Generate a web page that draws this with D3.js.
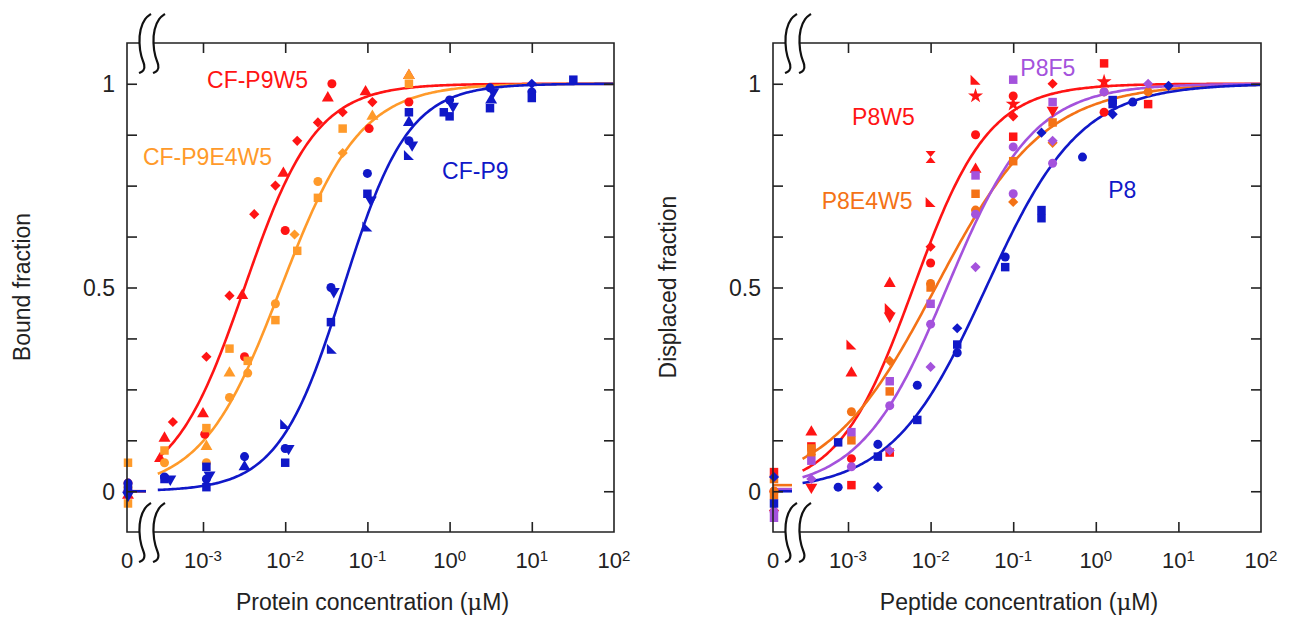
<!DOCTYPE html>
<html>
<head>
<meta charset="utf-8">
<script src="https://cdn.jsdelivr.net/npm/d3@7"></script>
<style>
  body { margin: 0; background: #fff; }
  svg { display: block; font-family: "Liberation Sans", Arial, sans-serif; }
</style>
</head>
<body>
<div id="chart"></div>
<script>
// ---- data (concentration in uM, fraction, marker) ----
const cfP9W5 = [
  [0, 0.02, "circle"], [0, -0.01, "triangle"], [0, 0.0, "diamond"],
  [3.0e-4, 0.08, "triangle"], [3.4e-4, 0.13, "triangle"], [4.3e-4, 0.17, "diamond"],
  [1.0e-3, 0.19, "triangle"], [1.05e-3, 0.14, "circle"], [1.1e-3, 0.33, "diamond"],
  [2.1e-3, 0.48, "diamond"], [3.0e-3, 0.48, "triangle"], [3.2e-3, 0.33, "circle"],
  [4.2e-3, 0.68, "diamond"], [7.6e-3, 0.75, "diamond"], [9.5e-3, 0.78, "triangle"],
  [0.01, 0.64, "circle"], [0.014, 0.86, "diamond"], [0.025, 0.905, "diamond"],
  [0.033, 0.965, "triangle"], [0.037, 1.0, "circle"], [0.05, 0.93, "diamond"],
  [0.095, 0.98, "triangle"], [0.105, 0.89, "circle"], [0.115, 0.955, "diamond"],
  [0.32, 1.02, "triangle"], [0.32, 0.955, "circle"]
];
const cfP9E4W5 = [
  [0, 0.07, "square"], [0, -0.03, "square"], [0, 0.01, "circle"],
  [3.4e-4, 0.10, "square"], [3.4e-4, 0.07, "circle"],
  [1.1e-3, 0.155, "square"], [1.1e-3, 0.11, "triangle"], [1.1e-3, 0.07, "circle"],
  [2.1e-3, 0.35, "square"], [2.1e-3, 0.29, "triangle"], [2.1e-3, 0.23, "circle"],
  [3.5e-3, 0.32, "square"], [3.5e-3, 0.29, "circle"],
  [7.6e-3, 0.46, "circle"], [7.6e-3, 0.42, "square"],
  [0.014, 0.59, "square"], [0.013, 0.63, "diamond"],
  [0.025, 0.76, "circle"], [0.025, 0.72, "square"],
  [0.05, 0.89, "square"], [0.05, 0.83, "diamond"],
  [0.115, 0.92, "triangle"], [0.32, 1.0, "square"], [0.32, 1.02, "triangle"]
];
const cfP9 = [
  [0, 0.02, "circle"], [0, 0.0, "circle"], [0, 0.01, "square"], [0, -0.01, "triangleDown"],
  [3.4e-4, 0.035, "circle"], [3.4e-4, 0.03, "square"], [4.0e-4, 0.03, "triangleDown"],
  [1.1e-3, 0.06, "square"], [1.2e-3, 0.04, "triangleDown"], [1.1e-3, 0.03, "circle"], [1.1e-3, 0.01, "square"],
  [3.2e-3, 0.085, "circle"], [3.2e-3, 0.06, "triangle"],
  [0.01, 0.165, "wedge"], [0.01, 0.105, "circle"], [0.011, 0.105, "triangleDown"], [0.01, 0.07, "square"],
  [0.036, 0.50, "circle"], [0.039, 0.49, "triangleDown"], [0.036, 0.415, "square"], [0.037, 0.35, "wedge"],
  [0.1, 0.78, "circle"], [0.1, 0.73, "square"], [0.11, 0.715, "triangleDown"], [0.1, 0.65, "wedge"],
  [0.32, 0.93, "square"], [0.32, 0.905, "triangle"], [0.32, 0.86, "circle"], [0.35, 0.85, "triangleDown"], [0.32, 0.825, "wedge"],
  [1.0, 0.96, "circle"], [1.0, 0.92, "square"], [1.1, 0.945, "triangleDown"], [0.85, 0.93, "square"],
  [3.1, 0.99, "circle"], [3.4, 0.98, "triangleDown"], [3.1, 0.94, "square"], [3.2, 0.96, "triangle"],
  [10, 1.0, "diamond"], [10, 0.98, "circle"], [10, 0.965, "square"],
  [32, 1.01, "square"]
];

const p8W5 = [
  [0, 0.047, "square"], [0, -0.047, "diamond"], [0, 0.0, "circle"],
  [3.6e-4, 0.145, "triangle"], [3.6e-4, 0.11, "square"], [3.6e-4, 0.01, "triangleDown"],
  [1.1e-3, 0.36, "wedge"], [1.1e-3, 0.29, "triangle"], [1.1e-3, 0.08, "circle"], [1.1e-3, 0.015, "square"],
  [3.2e-3, 0.51, "triangle"], [3.2e-3, 0.45, "wedge"], [3.2e-3, 0.43, "triangleDown"], [3.2e-3, 0.095, "square"],
  [0.01, 0.82, "hourglass"], [0.01, 0.71, "wedge"], [0.01, 0.6, "diamond"], [0.01, 0.56, "circle"],
  [0.035, 1.01, "wedge"], [0.035, 0.97, "star"], [0.035, 0.875, "circle"], [0.035, 0.79, "triangle"],
  [0.1, 0.97, "circle"], [0.1, 0.95, "star"], [0.1, 0.92, "diamond"], [0.1, 0.87, "square"],
  [0.3, 1.0, "diamond"], [0.3, 0.935, "triangleDown"],
  [1.26, 1.05, "square"], [1.26, 1.005, "star"], [1.26, 0.93, "circle"],
  [4.3, 0.95, "square"]
];
const p8E4W5 = [
  [0, 0.0, "circle"], [0, -0.01, "square"], [0, 0.03, "square"],
  [3.6e-4, 0.105, "square"], [3.6e-4, 0.09, "circle"],
  [1.1e-3, 0.195, "circle"], [1.1e-3, 0.125, "square"],
  [3.2e-3, 0.32, "diamond"], [3.2e-3, 0.245, "square"],
  [0.01, 0.51, "circle"], [0.01, 0.5, "square"],
  [0.035, 0.73, "square"], [0.035, 0.69, "circle"],
  [0.1, 0.81, "square"], [0.1, 0.71, "diamond"],
  [0.3, 0.905, "square"], [0.3, 0.855, "diamond"],
  [1.26, 0.98, "circle"], [4.3, 0.98, "circle"]
];
const p8F5 = [
  [0, -0.065, "square"], [0, -0.05, "circle"],
  [3.6e-4, 0.075, "square"], [3.6e-4, 0.03, "diamond"],
  [1.1e-3, 0.145, "square"], [1.1e-3, 0.06, "circle"],
  [3.2e-3, 0.27, "square"], [3.2e-3, 0.21, "circle"], [3.2e-3, 0.1, "diamond"],
  [0.01, 0.46, "square"], [0.01, 0.41, "circle"], [0.01, 0.305, "diamond"],
  [0.035, 0.775, "square"], [0.035, 0.68, "circle"], [0.035, 0.55, "diamond"],
  [0.1, 1.01, "square"], [0.1, 0.845, "circle"], [0.1, 0.73, "circle"],
  [0.3, 0.955, "square"], [0.3, 0.86, "diamond"], [0.3, 0.805, "circle"],
  [1.26, 0.98, "circle"], [4.3, 1.0, "diamond"]
];
const p8 = [
  [0, 0.035, "diamond"], [0, -0.03, "square"],
  [7.6e-4, 0.12, "square"], [7.6e-4, 0.01, "circle"],
  [2.3e-3, 0.115, "circle"], [2.3e-3, 0.085, "square"], [2.3e-3, 0.01, "diamond"],
  [6.9e-3, 0.26, "circle"], [6.9e-3, 0.175, "square"],
  [0.021, 0.40, "diamond"], [0.021, 0.36, "square"], [0.021, 0.34, "circle"],
  [0.08, 0.575, "circle"], [0.08, 0.55, "square"],
  [0.22, 0.88, "diamond"], [0.22, 0.69, "square"], [0.22, 0.67, "square"],
  [0.69, 0.82, "circle"],
  [1.6, 0.95, "square"], [1.6, 0.96, "square"], [1.6, 0.925, "diamond"],
  [2.8, 0.955, "circle"], [7.6, 0.995, "diamond"]
];

// fit parameters (K in uM, Hill slope) and the value drawn at c = 0
const leftNames = ["CF-P9W5", "CF-P9E4W5", "CF-P9"];
const leftK = [0.0032, 0.0089, 0.051];
const leftHill = [1.0, 0.9, 1.1];
const leftBase = [0, 0, 0];
const leftLabelAt = [[1.12e-3, 0.99], [1.86e-4, 0.80], [0.81, 0.767]];

const rightNames = ["P8W5", "P8E4W5", "P8F5", "P8"];
const rightK = [0.0062, 0.0115, 0.0158, 0.047];
const rightHill = [0.95, 0.66, 0.83, 0.76];
const rightBase = [0.005, 0.015, 0.005, 0];
const rightLabelAt = [[1.12e-3, 0.90], [4.8e-4, 0.693], [0.122, 1.02], [1.41, 0.72]];

const xExponents = [-3, -2, -1, 0, 1, 2];
const yTickLabels = [0, 0.5, 1];

// ---- layout ----
const width = 1290, height = 617;
const red = "#ff1414", blue = "#1018c8";
const leftColors = [red, "#ff9a2a", blue];
const rightColors = [red, "#f47216", "#a452dc", blue];
const frameColor = "#222";

const svg = d3.select("#chart").append("svg")
    .attr("width", width)
    .attr("height", height)
    .attr("viewBox", [0, 0, width, height]);

const y = d3.scaleLinear().domain([-0.1, 1.1]).range([532, 43]);
const yTicks = d3.range(0, 1.0001, 0.125);

const wedge = {draw(ctx) { ctx.moveTo(-5, -5); ctx.lineTo(-5, 5); ctx.lineTo(5, 5); ctx.closePath(); }};
const hourglass = {draw(ctx) {
  ctx.moveTo(-5, -6); ctx.lineTo(5, -6); ctx.lineTo(0, 0); ctx.lineTo(5, 6);
  ctx.lineTo(-5, 6); ctx.lineTo(0, 0); ctx.closePath();
}};
const shapes = {
  circle: [d3.symbolCircle, 64, 0],
  square: [d3.symbolSquare, 72, 0],
  triangle: [d3.symbolTriangle, 62, 0],
  triangleDown: [d3.symbolTriangle, 62, 180],
  diamond: [d3.symbolSquare, 52, 45],
  star: [d3.symbolStar, 70, 0],
  wedge: [wedge, 64, 0],
  hourglass: [hourglass, 64, 0]
};

const hill = (c, K, n) => 1 / (1 + Math.pow(K / c, n));
const curveLogs = d3.range(-3.55, 2.0001, 0.02);

// break mark stroke (relative to crossing point)
const breakStroke = d3.line().curve(d3.curveBasis)(
  [[7, -29], [1, -25], [-4, -14], [-5, 0], [-3, 14], [1, 22], [0, 28], [-5, 30]]);

function drawPanel(p) {
  const [x0, x1] = p.frame;
  const x = d3.scaleLog().domain([1e-3, 1e2]).range(p.logRange);
  const xPos = c => c === 0 ? x0 + 1 : x(c);
  const g = svg.append("g");

  // fitted curves and their c = 0 stubs
  p.names.forEach((name, i) => {
    const line = d3.line().x(l => x(Math.pow(10, l))).y(l => y(hill(Math.pow(10, l), p.K[i], p.n[i])));
    g.append("path")
        .attr("fill", "none")
        .attr("stroke", p.colors[i])
        .attr("stroke-width", 2.6)
        .attr("d", line(curveLogs));
    g.append("line")
        .attr("x1", x0).attr("x2", x0 + 19)
        .attr("y1", y(p.base[i])).attr("y2", y(p.base[i]))
        .attr("stroke", p.colors[i])
        .attr("stroke-width", 2.6);
  });

  // points
  p.series.forEach((data, i) => {
    g.append("g")
        .attr("fill", p.colors[i])
      .selectAll("path")
      .data(data)
      .join("path")
        .attr("transform", d => `translate(${xPos(d[0])},${y(d[1])}) rotate(${shapes[d[2]][2]})`)
        .attr("d", d => d3.symbol(shapes[d[2]][0], shapes[d[2]][1])());
  });

  // frame with gaps at the axis break
  const gapA = x0 + 13, gapB = x0 + 27;
  const frame = g.append("g").attr("stroke", frameColor).attr("stroke-width", 1.6).attr("fill", "none");
  frame.append("path").attr("d", `M${gapA},43H${x0}V532H${gapA}`);
  frame.append("path").attr("d", `M${gapB},43H${x1}V532H${gapB}`);

  // inward ticks
  const decades = xExponents.slice(0, -1).map(e => Math.pow(10, e));
  g.append("g")
      .attr("transform", "translate(0,532)")
      .call(d3.axisTop(x).tickValues(decades).tickSize(10).tickFormat(""))
      .call(a => a.select(".domain").remove());
  g.append("g")
      .attr("transform", "translate(0,43)")
      .call(d3.axisBottom(x).tickValues(decades).tickSize(10).tickFormat(""))
      .call(a => a.select(".domain").remove());
  g.append("g")
      .attr("transform", `translate(${x0},0)`)
      .call(d3.axisRight(y).tickValues(yTicks).tickSize(10).tickFormat(""))
      .call(a => a.select(".domain").remove());
  g.append("g")
      .attr("transform", `translate(${x1},0)`)
      .call(d3.axisLeft(y).tickValues(yTicks).tickSize(10).tickFormat(""))
      .call(a => a.select(".domain").remove());
  g.selectAll(".tick line").attr("stroke", frameColor).attr("stroke-width", 1.6);

  // break marks
  [[43], [532]].forEach(([cy]) => {
    [x0 + 17, x0 + 31].forEach(cx => {
      g.append("path")
          .attr("transform", `translate(${cx},${cy})`)
          .attr("d", breakStroke)
          .attr("fill", "none")
          .attr("stroke", "#111")
          .attr("stroke-width", 2.2);
    });
  });

  // tick labels
  g.append("text")
      .attr("x", x0).attr("y", 568)
      .attr("text-anchor", "middle")
      .attr("font-size", 22)
      .attr("fill", frameColor)
      .text("0");
  xExponents.forEach(e => {
    const t = g.append("text")
        .attr("x", x(Math.pow(10, e))).attr("y", 568)
        .attr("text-anchor", "middle")
        .attr("font-size", 22)
        .attr("fill", frameColor);
    t.append("tspan").text("10");
    t.append("tspan").attr("font-size", 15).attr("dy", -7).text(e < 0 ? "-" + (-e) : e);
  });
  yTickLabels.forEach(v => {
    g.append("text")
        .attr("x", x0 - 12).attr("y", y(v))
        .attr("dy", "0.38em")
        .attr("text-anchor", "end")
        .attr("font-size", 23)
        .attr("fill", frameColor)
        .text(v);
  });

  // axis titles
  const xt = g.append("text")
      .attr("x", (x0 + x1) / 2 + 2).attr("y", 610)
      .attr("text-anchor", "middle")
      .attr("font-size", 23)
      .attr("fill", frameColor);
  xt.append("tspan").text(p.xTitle + " (");
  xt.append("tspan").attr("font-family", "'DejaVu Serif', serif").text("\u03bc");
  xt.append("tspan").text("M)");
  g.append("text")
      .attr("transform", `translate(${p.yTitleX},287) rotate(-90)`)
      .attr("text-anchor", "middle")
      .attr("font-size", 23)
      .attr("fill", frameColor)
      .text(p.yTitle);

  // series labels
  p.names.forEach((name, i) => {
    g.append("text")
        .attr("x", x(p.labelAt[i][0])).attr("y", y(p.labelAt[i][1]))
        .attr("font-size", 23)
        .attr("fill", p.colors[i])
        .text(name);
  });
}

drawPanel({
  frame: [127, 614], logRange: [203, 614],
  names: leftNames, K: leftK, n: leftHill, base: leftBase, labelAt: leftLabelAt,
  colors: leftColors, series: [cfP9W5, cfP9E4W5, cfP9],
  xTitle: "Protein concentration", yTitle: "Bound fraction", yTitleX: 30
});
drawPanel({
  frame: [773, 1261], logRange: [848, 1261],
  names: rightNames, K: rightK, n: rightHill, base: rightBase, labelAt: rightLabelAt,
  colors: rightColors, series: [p8W5, p8E4W5, p8F5, p8],
  xTitle: "Peptide concentration", yTitle: "Displaced fraction", yTitleX: 676
});
</script>
</body>
</html>
